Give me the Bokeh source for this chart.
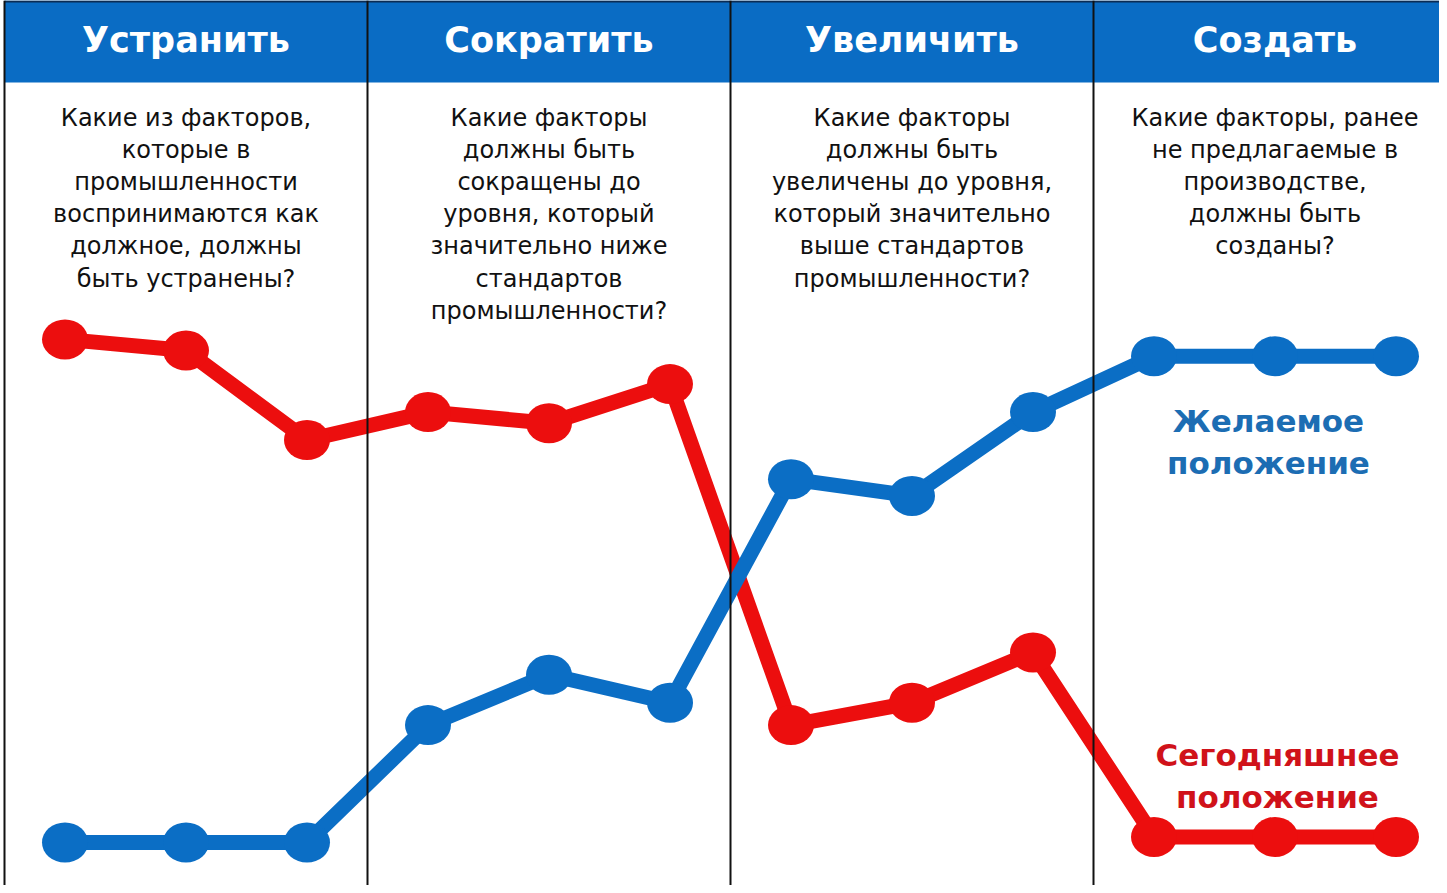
from bokeh.plotting import figure
from bokeh.models import Span, ColumnDataSource
from bokeh.core.properties import value
from bokeh.embed import file_html
from bokeh.resources import INLINE

# ---- data ----
headers = ["Устранить", "Сократить", "Увеличить", "Создать"]
questions = [
    ["Какие из факторов,", "которые в", "промышленности", "воспринимаются как", "должное, должны", "быть устранены?"],
    ["Какие факторы", "должны быть", "сокращены до", "уровня, который", "значительно ниже", "стандартов", "промышленности?"],
    ["Какие факторы", "должны быть", "увеличены до уровня,", "который значительно", "выше стандартов", "промышленности?"],
    ["Какие факторы, ранее", "не предлагаемые в", "производстве,", "должны быть", "созданы?"],
]
factor_pos = [0.5, 1.5, 2.5, 3.5, 4.5, 5.5, 6.5, 7.5, 8.5, 9.5, 10.5, 11.5]
current = [10.0, 9.8, 8.2, 8.7, 8.5, 9.2, 3.1, 3.5, 4.4, 1.1, 1.1, 1.1]
desired = [1.0, 1.0, 1.0, 3.1, 4.0, 3.5, 7.5, 7.2, 8.7, 9.7, 9.7, 9.7]
series_labels = {"desired": ["Желаемое", "положение"], "current": ["Сегодняшнее", "положение"]}

RED = "#EC0E0E"
BLUE = "#0B6EC5"
HEAD = "#0A6CC4"

W, H = 1439, 885
# scale helpers (pixel layout -> data)
PX0, PXU = 12.0, 121.0      # pixel of x=0, pixels per unit
PY1, PYU = 850.0, 55.9       # pixel of y=1, pixels per unit


def xd(px):
    return (px - PX0) / PXU


def yd(py):
    return 1 + (PY1 - py) / PYU


p = figure(width=W, height=H, output_backend="svg", toolbar_location=None,
           x_range=(xd(8), xd(8 + W)), y_range=(yd(8 + H), yd(8)),
           min_border=0, outline_line_color=None)
p.axis.visible = False
p.grid.visible = False
p.background_fill_color = "white"
p.border_fill_color = "white"

# header band
p.quad(left=[0], right=[xd(8 + W) + 1], top=[yd(8)], bottom=[yd(90)],
       fill_color=HEAD, line_color=None)
p.segment(x0=[0], x1=[xd(8 + W) + 1], y0=[yd(9)], y1=[yd(9)], line_color="#0b2c55", line_width=2)

# column dividers
for i in range(4):
    p.add_layout(Span(location=3 * i, dimension="height", line_color="#111111", line_width=2))

# headers
p.text(x=[3 * i + 1.5 for i in range(4)], y=[yd(47)] * 4, text=headers,
       text_color="white", text_font=value("DejaVu Sans"), text_font_style="bold",
       text_font_size="35px", text_align="center", text_baseline="middle")

# questions
qx, qy, qt = [], [], []
for i, lines in enumerate(questions):
    for j, t in enumerate(lines):
        qx.append(3 * i + 1.5)
        qy.append(yd(125 + 32.2 * j))
        qt.append(t)
p.text(x=qx, y=qy, text=qt, text_color="#111111", text_font=value("DejaVu Sans"),
       text_font_size="24px", text_align="center", text_baseline="middle")

# series
src = ColumnDataSource(dict(x=factor_pos, cur=current, des=desired))
p.line("x", "cur", source=src, line_color=RED, line_width=15, line_join="round")
p.ellipse("x", "cur", source=src, width=46, height=40, width_units="screen", height_units="screen",
          fill_color=RED, line_color=None)
p.line("x", "des", source=src, line_color=BLUE, line_width=15, line_join="round")
p.ellipse("x", "des", source=src, width=46, height=40, width_units="screen", height_units="screen",
          fill_color=BLUE, line_color=None)

# series labels
p.text(x=[xd(1276)] * 2, y=[yd(428), yd(470)], text=series_labels["desired"],
       text_color="#1C6DB3", text_font=value("DejaVu Sans"), text_font_style="bold",
       text_font_size="31px", text_align="center", text_baseline="middle")
p.text(x=[xd(1285)] * 2, y=[yd(762), yd(804)], text=series_labels["current"],
       text_color="#D0121A", text_font=value("DejaVu Sans"), text_font_style="bold",
       text_font_size="31px", text_align="center", text_baseline="middle")

open("out.html", "w").write(file_html(p, INLINE))
